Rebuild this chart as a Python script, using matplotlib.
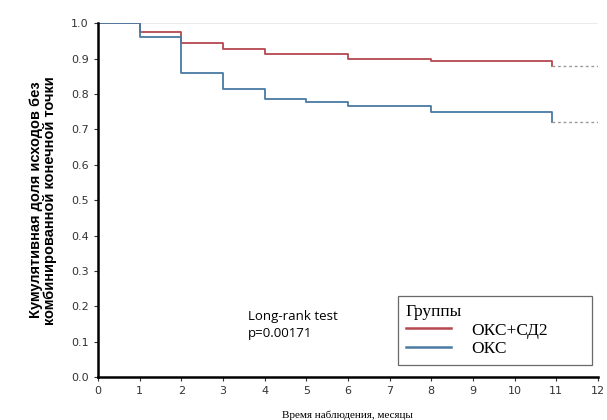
import numpy as np
import matplotlib.pyplot as plt

# event times (months) and survival after each step
t_dm = [0, 1, 2, 3, 4, 6, 8, 10.9]
s_dm = [1.0, 0.975, 0.945, 0.927, 0.912, 0.90, 0.894, 0.878]
t_acs = [0, 1, 2, 3, 4, 5, 6, 8, 10.9]
s_acs = [1.0, 0.96, 0.859, 0.813, 0.786, 0.778, 0.766, 0.749, 0.72]
t_end = 12

groups = ['ОКС+СД2', 'ОКС']
colors = ['#b5484f', '#4a7aa3']

fig = plt.figure(figsize=(6.07, 4.2), dpi=100)
ax = fig.add_axes([0.1614, 0.102, 0.8236, 0.843])

ax.axhline(1.0, color='#e6e6e6', lw=1.2, zorder=0)

for t, s, c, lab in [(t_dm, s_dm, colors[0], groups[0]), (t_acs, s_acs, colors[1], groups[1])]:
    ax.step(t, s, where='post', color=c, lw=1.3, label=lab)
    ax.plot([t[-1], t_end], [s[-1], s[-1]], color='#999999', lw=1, ls=(0, (2, 2)))

ax.set_xlim(0, 12)
ax.set_ylim(0, 1.0)
ax.set_xticks(range(0, 13))
ax.set_yticks(np.arange(0, 1.01, 0.1))
ax.set_yticklabels(['%.1f' % v for v in np.arange(0, 1.01, 0.1)])
ax.tick_params(labelsize=8, length=3, colors='#333333')
for sp in ['top', 'right']:
    ax.spines[sp].set_visible(False)
ax.spines['left'].set_linewidth(1.8)
ax.spines['bottom'].set_linewidth(1.8)

ax.set_ylabel('Кумулятивная доля исходов без\nкомбинированной конечной точки',
              fontsize=10.5, fontweight='bold', family='Liberation Sans',
              linespacing=1.0, labelpad=10)
ax.set_xlabel('Время наблюдения, месяцы', fontsize=8, family='Liberation Serif', labelpad=10)

ax.text(3.6, 0.105, 'Long-rank test\np=0.00171', fontsize=9.5, family='Open Sans',
        linespacing=1.4, va='bottom')

leg = ax.legend(title='Группы', loc='lower left', bbox_to_anchor=(0.6, 0.034, 0.388, 0.206),
                mode='expand', prop={'family': 'Liberation Serif', 'size': 12.5}, frameon=True,
                fancybox=False, edgecolor='#444444', handlelength=2.6,
                handletextpad=1.2, borderpad=0.45, labelspacing=0.15,
                borderaxespad=0.0)
leg.get_title().set_family('Liberation Serif')
leg.get_title().set_fontsize(12.5)
leg._legend_box.align = 'left'
leg.get_frame().set_linewidth(0.9)
for h in leg.get_lines():
    h.set_linewidth(1.8)

fig.savefig('out.png', dpi=100)
